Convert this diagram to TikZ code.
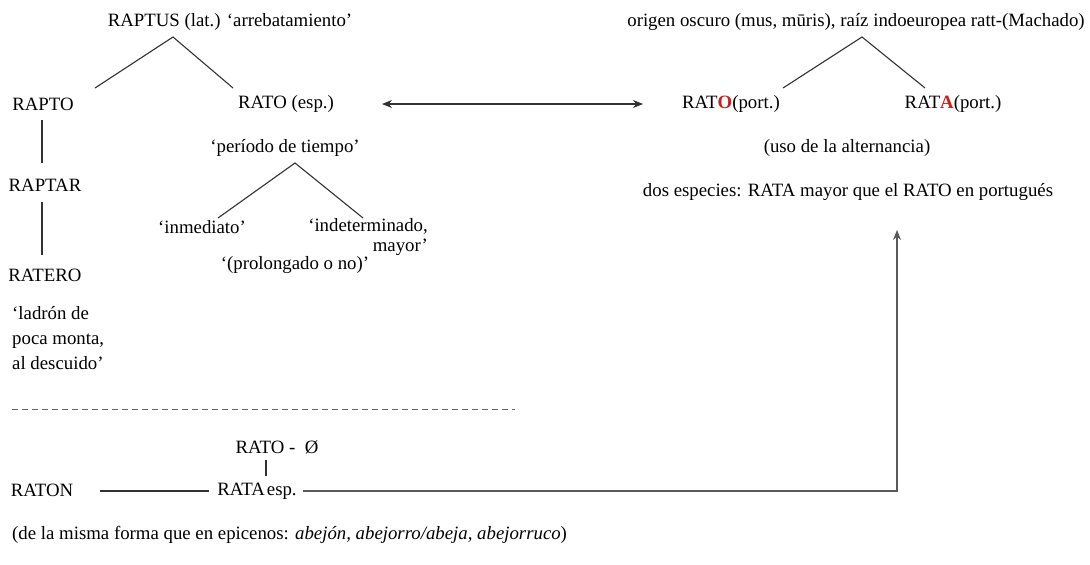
\documentclass[tikz,border=0pt]{standalone}
\usepackage{fontspec}
\setmainfont{Liberation Serif}
\usetikzlibrary{arrows.meta}
\definecolor{rojo}{RGB}{200,30,30}
\definecolor{linea}{RGB}{50,50,50}
\begin{document}
\begin{tikzpicture}[x=1pt,y=-1pt,
  font=\fontsize{18.8}{21}\selectfont,
  lbl/.style={inner sep=0pt, anchor=center},
  ln/.style={draw=linea, line width=1.1pt},
  tip/.style={-{Stealth[length=10pt,width=8pt]}},
  both/.style={{Stealth[length=10pt,width=8pt]}-{Stealth[length=10pt,width=8pt]}},
  dsh/.style={draw=black!60, line width=0.9pt, dash pattern=on 6pt off 4pt}
]
\useasboundingbox[fill=white] (0,0) rectangle (1090,565);

% left tree
\node[lbl] (raptus) at (230,22) {RAPTUS (lat.) ‘arrebatamiento’};
\node[lbl] (rapto) at (43,104) {RAPTO};
\node[lbl] (ratoesp) at (286,104) {RATO (esp.)};
\node[lbl] (raptar) at (45,185) {RAPTAR};
\node[lbl] (ratero) at (45,275) {RATERO};
\node[lbl, anchor=north west, align=left, font=\fontsize{18.8}{25}\selectfont] (ladron) at (12,306) {‘ladrón de\\poca monta,\\al descuido’};
\node[lbl] (periodo) at (285,148) {‘período de tiempo’};
\node[lbl] (inmed) at (202,227) {‘inmediato’};
\node[lbl, anchor=north east, align=right, font=\fontsize{18.8}{20}\selectfont] (indet) at (428,218) {‘indeterminado,\\mayor’};
\node[lbl] (prolong) at (295,265) {‘(prolongado o no)’};

\coordinate (a1) at (173,37);
\coordinate (a1l) at (95,88);
\coordinate (a1r) at (233,88);
\draw[ln] (a1l) -- (a1) -- (a1r);

\coordinate (v1t) at (42,120);
\coordinate (v1b) at (42,163);
\coordinate (v2t) at (42,202);
\coordinate (v2b) at (42,255);
\draw[ln] (v1t) -- (v1b);
\draw[ln] (v2t) -- (v2b);

\coordinate (a2) at (295,163);
\coordinate (a2l) at (218,218);
\coordinate (a2r) at (363,218);
\draw[ln] (a2l) -- (a2) -- (a2r);

% right tree
\node[lbl] (origen) at (856,22) {origen oscuro (mus, mūris), raíz indoeuropea ratt-(Machado)};
\node[lbl] (ratoport) at (731,104) {RAT\textcolor{rojo}{\textbf{O}}(port.)};
\node[lbl] (rataport) at (953,104) {RAT\textcolor{rojo}{\textbf{A}}(port.)};
\node[lbl] (uso) at (847,148) {(uso de la alternancia)};
\node[lbl] (dos) at (848,192) {dos especies: RATA mayor que el RATO en portugués};

\coordinate (a3) at (862,37);
\coordinate (a3l) at (783,88);
\coordinate (a3r) at (925,88);
\draw[ln] (a3l) -- (a3) -- (a3r);

\coordinate (h1) at (382,104);
\coordinate (h2) at (643,104);
\draw[ln, both] (h1) -- (h2);

% separator
\coordinate (d1) at (12,409);
\coordinate (d2) at (515,409);
\draw[dsh] (d1) -- (d2);

% bottom
\node[lbl] (ratozero) at (277,447) {RATO -\ \ Ø};
\node[lbl] (raton) at (42,490) {RATON};
\node[lbl] (rataesp) at (257,491) {RATA\hspace{2pt}esp.};
\node[lbl, anchor=west] (bottom) at (12,535) {(de la misma forma que en epicenos: \textit{abejón, abejorro/abeja, abejorruco})};

\coordinate (v3t) at (266,460);
\coordinate (v3b) at (266,476);
\draw[ln] (v3t) -- (v3b);

\coordinate (r1) at (100,491);
\coordinate (r2) at (209,491);
\draw[ln] (r1) -- (r2);

\coordinate (s1) at (303,491);
\coordinate (s2) at (897,491);
\coordinate (s3) at (897,230);
\draw[ln, line width=1.4pt, draw=black!65, tip] (s1) -- (s2) -- (s3);
\end{tikzpicture}
\end{document}
